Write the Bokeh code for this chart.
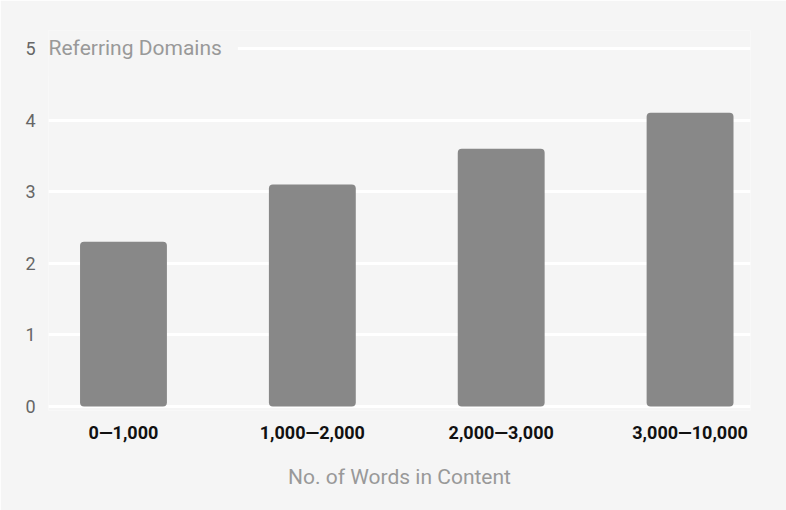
from bokeh.plotting import figure
from bokeh.models import Range1d, Label, FixedTicker, ColumnDataSource
from bokeh.embed import file_html
from bokeh.resources import INLINE

categories = ["0—1,000", "1,000—2,000", "2,000—3,000", "3,000—10,000"]
values = [2.3, 3.1, 3.6, 4.1]
y_ticks = [0, 1, 2, 3, 4, 5]
y_title = "Referring Domains"
x_title = "No. of Words in Content"

BG = "#f5f5f5"
FONT = "Roboto"

xs = list(range(len(categories)))
src = ColumnDataSource(dict(x=xs, top=values))

p = figure(width=786, height=510, output_backend="svg", toolbar_location=None,
           x_range=Range1d(-0.397, 3.32), y_range=Range1d(-0.056, 5.25),
           min_border_left=48, min_border_right=36, min_border_top=30, min_border_bottom=100)
p.background_fill_color = BG
p.border_fill_color = BG
p.outline_line_color = None

p.vbar(x="x", top="top", bottom=0, width=0.46, source=src, fill_color="#888888",
       line_color=None, border_radius=4)

p.xgrid.grid_line_color = None
p.ygrid.grid_line_color = "white"
p.ygrid.grid_line_width = 3
p.ygrid.ticker = FixedTicker(ticks=y_ticks)

p.yaxis.ticker = FixedTicker(ticks=y_ticks)
p.yaxis.axis_line_color = None
p.yaxis.major_tick_line_color = None
p.yaxis.minor_tick_line_color = None
p.yaxis.major_tick_out = 0
p.yaxis.major_tick_in = 0
p.yaxis.major_label_standoff = 13
p.yaxis.major_label_text_font = FONT
p.yaxis.major_label_text_font_size = "18px"
p.yaxis.major_label_text_color = "#666666"

p.xaxis.ticker = FixedTicker(ticks=xs)
p.xaxis.major_label_overrides = {i: c for i, c in zip(xs, categories)}
p.xaxis.axis_line_color = None
p.xaxis.major_tick_line_color = None
p.xaxis.minor_tick_line_color = None
p.xaxis.major_tick_out = 0
p.xaxis.major_tick_in = 0
p.xaxis.major_label_standoff = 11
p.xaxis.major_label_text_font = FONT
p.xaxis.major_label_text_font_size = "18px"
p.xaxis.major_label_text_font_style = "bold"
p.xaxis.major_label_text_color = "#111111"
p.xaxis.axis_label = x_title
p.xaxis.axis_label_standoff = 19
p.xaxis.axis_label_text_font = FONT
p.xaxis.axis_label_text_font_size = "21px"
p.xaxis.axis_label_text_font_style = "normal"
p.xaxis.axis_label_text_color = "#999999"

p.add_layout(Label(x=-0.397, y=5, text=y_title, text_font=FONT, text_font_size="21px",
                   text_color="#999999", text_baseline="middle", text_align="left",
                   background_fill_color=BG, padding=16, x_offset=-16))

open("out.html", "w").write(file_html(p, INLINE))
